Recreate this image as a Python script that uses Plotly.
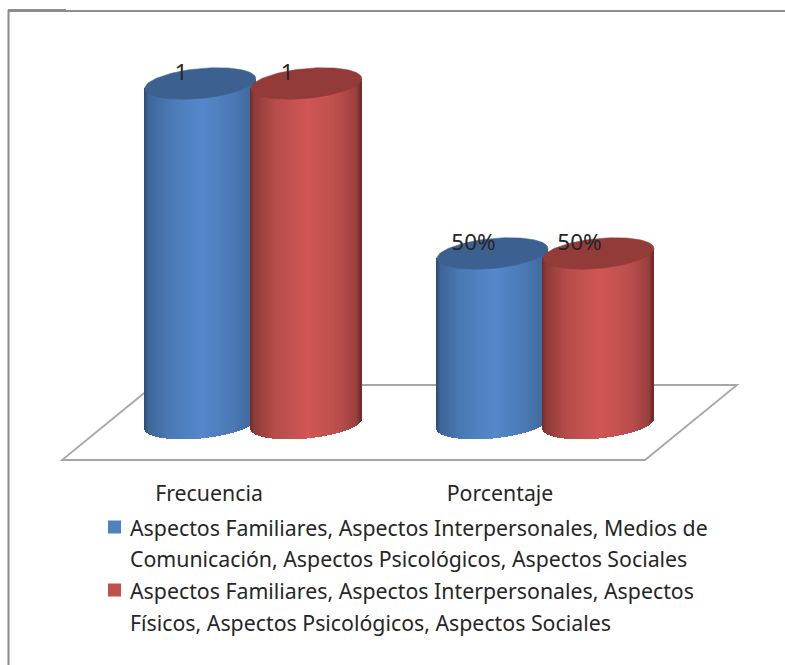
import numpy as np
import plotly.graph_objects as go

# Chart data
categories = ["Frecuencia", "Porcentaje"]
series_a_lines = ["Aspectos Familiares, Aspectos Interpersonales, Medios de",
                  "Comunicación, Aspectos Psicológicos, Aspectos Sociales"]
series_b_lines = ["Aspectos Familiares, Aspectos Interpersonales, Aspectos",
                  "Físicos, Aspectos Psicológicos, Aspectos Sociales"]
series_a_values = [1, 0.5]
series_b_values = [1, 0.5]
value_labels = [["1", "50%"], ["1", "50%"]]

# Page and scale set-up: x runs in pixels, y in chart units
WIDTH, HEIGHT = 785, 665
AXIS_PX = 479
BASE_PX = 423.5
PX_PER_UNIT = 340.0


def to_y(px):
    return (BASE_PX - px) / PX_PER_UNIT


def to_paper_y(px):
    return (HEIGHT - px) / HEIGHT


# Cylinder geometry
GROUP_X = [253.25, 545.5]
BAR_OFFSET = 53.0
RADIUS = 55.5
SEMI_MINOR = 15.0 / PX_PER_UNIT
TILT = 5.0 / PX_PER_UNIT

FONT = "Noto Sans"
TEXT_SIZE = 21.3
LABEL_SIZE = 22.5
TEXT = "#262626"
GRID = "#A6A6A6"
FRAME = "#8C8C8C"

SHADE_T = [0.0, 0.04, 0.22, 0.52, 0.80, 0.96, 1.0]
BLUE_SHADES = ["#2C4A70", "#3D6699", "#4A79B4", "#5587CB", "#4A79B4", "#3F6A9E", "#2F5078"]
RED_SHADES = ["#6E2C2C", "#8F3B39", "#B64C4A", "#D05755", "#BA4E4C", "#993F3D", "#6A2A2A"]
BLUE_CAP = "#3C6190"
RED_CAP = "#923B39"
BLUE_KEY = "#4F81BD"
RED_KEY = "#C0504D"


def shade(stops, t):
    rgb = [[int(s[i:i + 2], 16) for i in (1, 3, 5)] for s in stops]
    channels = [np.interp(t, SHADE_T, [c[k] for c in rgb]) for k in range(3)]
    return [f"rgb({r:.0f},{g:.0f},{b:.0f})" for r, g, b in zip(*channels)]


def cylinder(center, value, stops, cap, name):
    """Body as one-pixel shaded bars, lid as a filled tilted ellipse."""
    xs = np.arange(center - RADIUS + 0.5, center + RADIUS, 1.0)
    u = np.clip((xs - center) / RADIUS, -1, 1)
    lower = TILT * u - SEMI_MINOR * np.sqrt(1 - u ** 2)
    upper = value + TILT * u
    body = go.Bar(
        x=xs, y=upper - lower, base=lower, width=1.15,
        marker=dict(color=shade(stops, (u + 1) / 2), line=dict(width=0)),
        showlegend=False, hoverinfo="skip", name=name,
    )
    theta = np.linspace(0, 2 * np.pi, 121)
    ex = center + RADIUS * np.cos(theta)
    ey = value + TILT * np.cos(theta) + SEMI_MINOR * np.sin(theta)
    lid = go.Scatter(
        x=ex, y=ey, mode="lines", fill="toself", fillcolor=cap,
        line=dict(width=0.5, color=cap), showlegend=False, hoverinfo="skip",
    )
    return body, lid


fig = go.Figure()

lids = []
labels = []
for i, group in enumerate(GROUP_X):
    for j, (values, stops, cap, lines) in enumerate((
        (series_a_values, BLUE_SHADES, BLUE_CAP, series_a_lines),
        (series_b_values, RED_SHADES, RED_CAP, series_b_lines),
    )):
        center = group + (2 * j - 1) * BAR_OFFSET
        body, lid = cylinder(center, values[i], stops, cap, " ".join(lines))
        fig.add_trace(body)
        lids.append(lid)
        labels.append((center - 19, values[i] + 9.5 / PX_PER_UNIT, value_labels[j][i]))

fig.add_traces(lids)

fig.add_trace(go.Scatter(
    x=[l[0] for l in labels], y=[l[1] for l in labels], text=[l[2] for l in labels],
    mode="text", textposition="middle center",
    textfont=dict(family=FONT, size=LABEL_SIZE, color=TEXT),
    showlegend=False, hoverinfo="skip",
))

# Legend keys, placed below the axis labels
KEY_X = 114.5
KEY_ROWS = [527, 590]
fig.add_trace(go.Scatter(
    x=[KEY_X, KEY_X], y=[to_y(p) for p in KEY_ROWS], mode="markers",
    marker=dict(symbol="square", size=13, color=[BLUE_KEY, RED_KEY]),
    showlegend=False, hoverinfo="skip",
))

# Legend text, one annotation per wrapped line
LEGEND_ROWS = [527, 558.5, 590, 622]
legend_lines = series_a_lines + series_b_lines
annotations = [
    dict(text=t, xref="paper", yref="paper", x=127.5 / WIDTH, y=to_paper_y(p),
         xanchor="left", yanchor="middle", showarrow=False,
         font=dict(family=FONT, size=TEXT_SIZE, color=TEXT))
    for t, p in zip(legend_lines, LEGEND_ROWS)
]

floor_x = [154, 62, 645, 737]
floor_px = [385, 460, 460, 385]
floor_path = "M " + " L ".join(f"{x},{to_y(p)}" for x, p in zip(floor_x, floor_px)) + " Z"

fig.update_layout(
    width=WIDTH, height=HEIGHT,
    margin=dict(l=0, r=0, t=0, b=0, pad=0),
    paper_bgcolor="white", plot_bgcolor="rgba(0,0,0,0)",
    barmode="overlay", bargap=0, showlegend=False,
    font=dict(family=FONT, color=TEXT),
    xaxis=dict(
        range=[0, WIDTH], tickmode="array", tickvals=[209, 500], ticktext=categories,
        showgrid=False, zeroline=False, showline=False, ticks="",
        anchor="free", position=to_paper_y(AXIS_PX),
        tickfont=dict(family=FONT, size=TEXT_SIZE, color=TEXT), fixedrange=True,
    ),
    yaxis=dict(range=[to_y(HEIGHT), to_y(0)], visible=False, fixedrange=True),
    annotations=annotations,
    shapes=[
        # Floor of the 3D plot, behind the cylinders
        dict(type="path", xref="x", yref="y", path=floor_path, layer="below",
             line=dict(color=GRID, width=1.8)),
        # Outer frame of the chart
        dict(type="line", xref="paper", yref="paper", x0=8.5 / WIDTH, x1=8.5 / WIDTH,
             y0=to_paper_y(665), y1=to_paper_y(10), line=dict(color=FRAME, width=2)),
        dict(type="line", xref="paper", yref="paper", x0=8 / WIDTH, x1=1,
             y0=to_paper_y(11), y1=to_paper_y(11), line=dict(color=FRAME, width=2)),
        dict(type="line", xref="paper", yref="paper", x0=8 / WIDTH, x1=66 / WIDTH,
             y0=to_paper_y(9.5), y1=to_paper_y(9.5), line=dict(color=FRAME, width=1)),
    ],
)

fig.write_html("out.html")
